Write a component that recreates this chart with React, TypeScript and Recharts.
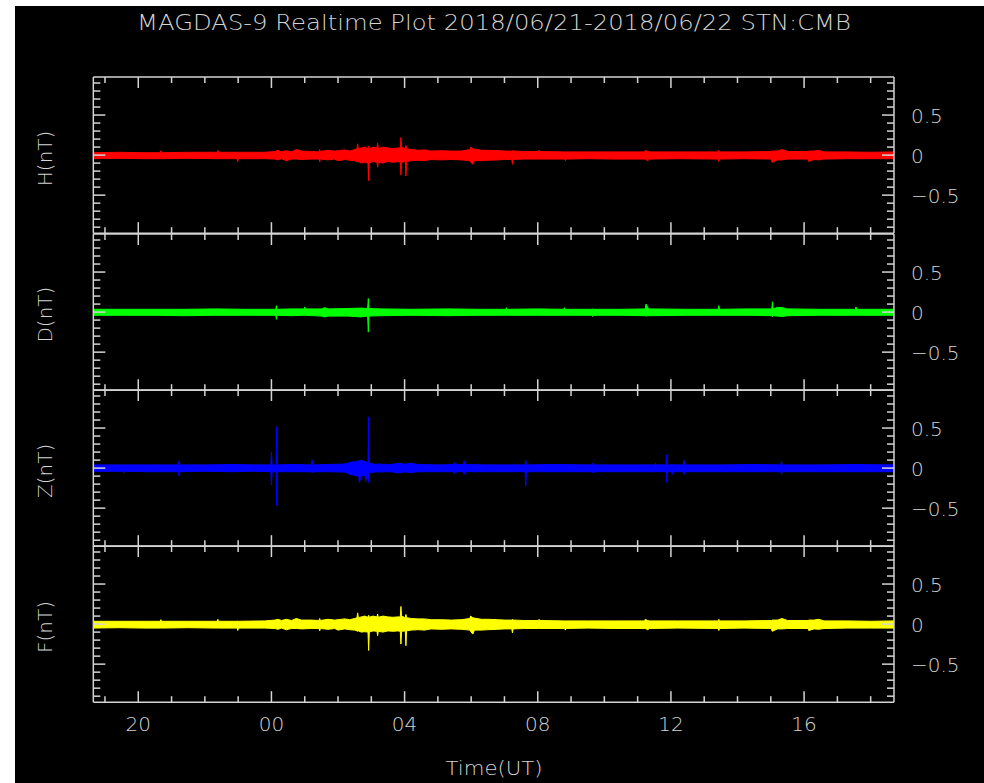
import React from "react";
import { Area, ComposedChart, XAxis, YAxis } from "recharts";

// envelope samples: [hour since 06/21 00:00 UT, min nT, max nT]
const hEnv: [number, number, number][] = [
  [18.65, -0.045, 0.03], [19.4, -0.04, 0.035], [20.2, -0.045, 0.03],
  [20.66, -0.045, 0.03], [20.68, -0.045, 0.055], [20.7, -0.045, 0.03],
  [21.5, -0.04, 0.035],
  [22.37, -0.045, 0.035], [22.39, -0.05, 0.06], [22.41, -0.045, 0.035],
  [22.97, -0.045, 0.035], [22.99, -0.08, 0.04], [23.01, -0.045, 0.035],
  [23.8, -0.045, 0.035],
  [24.1, -0.05, 0.045], [24.2, -0.06, 0.06], [24.3, -0.045, 0.04], [24.45, -0.07, 0.055], [24.6, -0.05, 0.04],
  [24.75, -0.05, 0.07], [24.9, -0.055, 0.05], [25.2, -0.05, 0.045],
  [25.43, -0.05, 0.04], [25.45, -0.085, 0.07], [25.47, -0.05, 0.045],
  [25.7, -0.06, 0.06], [25.9, -0.05, 0.05], [26.0, -0.07, 0.055], [26.2, -0.055, 0.065], [26.35, -0.065, 0.05], [26.5, -0.07, 0.07],
  [26.57, -0.08, 0.08], [26.59, -0.09, 0.14], [26.61, -0.08, 0.08],
  [26.7, -0.1, 0.09], [26.8, -0.09, 0.1],
  [26.9, -0.1, 0.08], [26.92, -0.32, 0.11], [26.94, -0.1, 0.08],
  [27.05, -0.08, 0.1],
  [27.17, -0.09, 0.09], [27.19, -0.15, 0.15], [27.21, -0.09, 0.08],
  [27.35, -0.1, 0.1], [27.5, -0.08, 0.09], [27.65, -0.09, 0.08], [27.8, -0.08, 0.09],
  [27.87, -0.09, 0.09], [27.89, -0.25, 0.22], [27.91, -0.09, 0.1],
  [28.02, -0.08, 0.08], [28.04, -0.26, 0.12], [28.06, -0.08, 0.08],
  [28.2, -0.07, 0.07], [28.4, -0.065, 0.06], [28.6, -0.07, 0.065], [28.8, -0.055, 0.05], [29.1, -0.06, 0.055], [29.4, -0.055, 0.05], [29.7, -0.06, 0.05],
  [29.97, -0.07, 0.07], [29.99, -0.09, 0.1], [30.05, -0.115, 0.08], [30.1, -0.07, 0.075],
  [30.3, -0.07, 0.06], [30.5, -0.065, 0.06], [30.8, -0.06, 0.055], [31.0, -0.055, 0.05],
  [31.22, -0.055, 0.05], [31.24, -0.115, 0.06], [31.26, -0.055, 0.05],
  [31.6, -0.05, 0.045], [32.02, -0.05, 0.045], [32.04, -0.05, 0.06], [32.06, -0.05, 0.045],
  [32.81, -0.05, 0.04], [32.83, -0.07, 0.04], [32.85, -0.05, 0.04],
  [33.5, -0.045, 0.04], [34.3, -0.05, 0.04],
  [35.21, -0.05, 0.04], [35.23, -0.05, 0.06], [35.3, -0.07, 0.045], [35.36, -0.05, 0.04],
  [36.2, -0.045, 0.04],
  [37.42, -0.05, 0.04], [37.44, -0.08, 0.06], [37.46, -0.05, 0.04],
  [38.2, -0.045, 0.04],
  [39.02, -0.05, 0.045], [39.04, -0.09, 0.05], [39.2, -0.06, 0.05], [39.34, -0.06, 0.07], [39.5, -0.05, 0.045],
  [40.12, -0.05, 0.045], [40.14, -0.08, 0.05], [40.3, -0.055, 0.05], [40.44, -0.06, 0.06], [40.6, -0.05, 0.04],
  [41.3, -0.045, 0.04], [42.0, -0.045, 0.035], [42.7, -0.045, 0.04],
];

const dEnv: [number, number, number][] = [
  [18.65, -0.04, 0.035], [19.5, -0.04, 0.035], [20.5, -0.04, 0.035], [21.4, -0.045, 0.035], [22.3, -0.04, 0.04], [23.2, -0.04, 0.035],
  [24.13, -0.04, 0.035], [24.15, -0.09, 0.08], [24.17, -0.04, 0.035],
  [24.6, -0.045, 0.04], [24.98, -0.04, 0.04], [25.0, -0.045, 0.065], [25.02, -0.04, 0.04],
  [25.5, -0.05, 0.04], [25.6, -0.06, 0.055], [25.7, -0.05, 0.04],
  [26.3, -0.05, 0.045], [26.7, -0.06, 0.05],
  [26.89, -0.05, 0.045], [26.91, -0.25, 0.17], [26.93, -0.05, 0.045],
  [27.3, -0.045, 0.04], [28.2, -0.04, 0.035], [29.3, -0.045, 0.04], [30.2, -0.04, 0.035],
  [31.04, -0.04, 0.035], [31.06, -0.04, 0.055], [31.08, -0.04, 0.035],
  [32.0, -0.04, 0.04], [32.78, -0.04, 0.035], [32.8, -0.045, 0.055], [32.82, -0.04, 0.035],
  [33.63, -0.04, 0.035], [33.65, -0.055, 0.04], [33.67, -0.04, 0.035],
  [34.5, -0.04, 0.035],
  [35.23, -0.045, 0.04], [35.25, -0.05, 0.1], [35.3, -0.045, 0.06], [35.35, -0.045, 0.04],
  [36.5, -0.04, 0.035],
  [37.42, -0.04, 0.035], [37.44, -0.045, 0.08], [37.46, -0.04, 0.035],
  [38.3, -0.04, 0.04],
  [39.03, -0.045, 0.04], [39.05, -0.06, 0.13], [39.07, -0.045, 0.04], [39.2, -0.05, 0.06], [39.35, -0.055, 0.055], [39.5, -0.045, 0.04],
  [40.5, -0.04, 0.035],
  [41.54, -0.04, 0.035], [41.56, -0.045, 0.065], [41.58, -0.04, 0.035],
  [42.7, -0.04, 0.035],
];

const zEnv: [number, number, number][] = [
  [18.65, -0.04, 0.04], [19.3, -0.04, 0.04], [19.54, -0.04, 0.04], [19.56, -0.065, 0.04], [19.58, -0.04, 0.04],
  [20.3, -0.045, 0.04],
  [21.2, -0.045, 0.04], [21.22, -0.1, 0.09], [21.24, -0.045, 0.04],
  [22.0, -0.04, 0.04], [22.8, -0.045, 0.045], [23.5, -0.04, 0.04],
  [23.98, -0.045, 0.04], [24.0, -0.21, 0.2], [24.02, -0.045, 0.04],
  [24.14, -0.045, 0.04], [24.16, -0.47, 0.52], [24.18, -0.045, 0.04],
  [24.6, -0.045, 0.045],
  [25.2, -0.045, 0.04], [25.22, -0.06, 0.1], [25.24, -0.045, 0.04],
  [25.7, -0.045, 0.045],
  [26.2, -0.05, 0.05], [26.35, -0.08, 0.07], [26.5, -0.09, 0.08], [26.62, -0.1, 0.09], [26.64, -0.18, 0.09], [26.7, -0.1, 0.1],
  [26.81, -0.09, 0.08], [26.83, -0.17, 0.08], [26.87, -0.08, 0.07],
  [26.9, -0.07, 0.06], [26.92, -0.18, 0.64], [26.94, -0.06, 0.06],
  [27.05, -0.05, 0.05],
  [27.6, -0.045, 0.045], [27.8, -0.06, 0.06], [28.0, -0.05, 0.05], [28.2, -0.055, 0.06], [28.4, -0.045, 0.045],
  [29.0, -0.045, 0.04],
  [29.47, -0.045, 0.045], [29.49, -0.07, 0.07], [29.51, -0.045, 0.045],
  [29.77, -0.045, 0.045], [29.79, -0.08, 0.09], [29.81, -0.045, 0.045],
  [30.5, -0.045, 0.04],
  [31.62, -0.045, 0.04], [31.64, -0.225, 0.1], [31.66, -0.045, 0.04],
  [32.5, -0.045, 0.045],
  [33.62, -0.045, 0.04], [33.64, -0.06, 0.06], [33.66, -0.045, 0.04],
  [34.5, -0.045, 0.04],
  [35.52, -0.045, 0.04], [35.54, -0.05, 0.06], [35.56, -0.045, 0.04],
  [35.85, -0.045, 0.04], [35.87, -0.18, 0.17], [35.89, -0.045, 0.04],
  [36.02, -0.045, 0.04], [36.04, -0.08, 0.05], [36.06, -0.045, 0.04],
  [36.37, -0.045, 0.04], [36.39, -0.08, 0.1], [36.41, -0.045, 0.04],
  [37.5, -0.045, 0.04], [38.5, -0.045, 0.045],
  [39.3, -0.045, 0.04], [39.32, -0.08, 0.09], [39.34, -0.045, 0.04],
  [40.5, -0.045, 0.04], [41.5, -0.045, 0.045], [42.7, -0.045, 0.04],
];

const fEnv: [number, number, number][] = [
  [18.65, -0.05, 0.035], [19.4, -0.045, 0.035], [20.2, -0.05, 0.035],
  [20.66, -0.05, 0.035], [20.68, -0.05, 0.055], [20.7, -0.05, 0.035],
  [21.5, -0.045, 0.035],
  [22.37, -0.05, 0.035], [22.39, -0.05, 0.06], [22.41, -0.05, 0.035],
  [22.97, -0.05, 0.035], [22.99, -0.08, 0.04], [23.01, -0.05, 0.035],
  [23.8, -0.05, 0.04],
  [24.1, -0.055, 0.05], [24.2, -0.065, 0.06], [24.3, -0.05, 0.045], [24.45, -0.07, 0.06], [24.6, -0.055, 0.045],
  [24.75, -0.055, 0.07], [24.9, -0.06, 0.05], [25.2, -0.055, 0.05],
  [25.43, -0.055, 0.045], [25.45, -0.085, 0.07], [25.47, -0.055, 0.045],
  [25.7, -0.065, 0.06], [25.9, -0.055, 0.05], [26.0, -0.075, 0.055], [26.2, -0.06, 0.065], [26.35, -0.07, 0.055], [26.5, -0.075, 0.07],
  [26.57, -0.085, 0.08], [26.59, -0.09, 0.14], [26.61, -0.085, 0.08],
  [26.7, -0.1, 0.09], [26.8, -0.095, 0.1],
  [26.9, -0.1, 0.085], [26.92, -0.33, 0.11], [26.94, -0.1, 0.085],
  [27.05, -0.085, 0.1],
  [27.17, -0.09, 0.09], [27.19, -0.145, 0.125], [27.21, -0.09, 0.085],
  [27.35, -0.1, 0.1], [27.5, -0.085, 0.09], [27.65, -0.09, 0.085], [27.8, -0.085, 0.09],
  [27.87, -0.09, 0.09], [27.89, -0.25, 0.22], [27.91, -0.09, 0.1],
  [28.02, -0.085, 0.08], [28.04, -0.27, 0.12], [28.06, -0.085, 0.08],
  [28.2, -0.075, 0.07], [28.4, -0.07, 0.065], [28.6, -0.075, 0.065], [28.8, -0.06, 0.055], [29.1, -0.065, 0.055], [29.4, -0.06, 0.05], [29.7, -0.065, 0.055],
  [29.96, -0.075, 0.07], [29.98, -0.09, 0.1], [30.05, -0.125, 0.08], [30.1, -0.075, 0.075],
  [30.3, -0.075, 0.06], [30.5, -0.07, 0.06], [30.8, -0.065, 0.055], [31.0, -0.06, 0.05],
  [31.22, -0.06, 0.05], [31.24, -0.11, 0.06], [31.26, -0.06, 0.05],
  [31.6, -0.055, 0.045], [32.02, -0.055, 0.045], [32.04, -0.055, 0.06], [32.06, -0.055, 0.045],
  [32.81, -0.055, 0.04], [32.83, -0.075, 0.04], [32.85, -0.055, 0.04],
  [33.5, -0.05, 0.04], [34.3, -0.055, 0.04],
  [35.21, -0.055, 0.04], [35.23, -0.055, 0.06], [35.3, -0.07, 0.045], [35.36, -0.055, 0.04],
  [36.2, -0.05, 0.04],
  [37.42, -0.055, 0.04], [37.44, -0.08, 0.06], [37.46, -0.055, 0.04],
  [38.2, -0.05, 0.04],
  [39.02, -0.055, 0.045], [39.04, -0.09, 0.05], [39.2, -0.06, 0.05], [39.34, -0.06, 0.07], [39.5, -0.055, 0.045],
  [40.12, -0.055, 0.045], [40.14, -0.08, 0.05], [40.3, -0.06, 0.05], [40.44, -0.065, 0.06], [40.6, -0.055, 0.04],
  [41.3, -0.05, 0.04], [42.0, -0.05, 0.035], [42.7, -0.05, 0.04],
];

const hourTicks = [19, 20, 21, 22, 23, 24, 25, 26, 27, 28, 29, 30, 31, 32, 33, 34, 35, 36, 37, 38, 39, 40, 41, 42];
const hourMajor = [20, 24, 28, 32, 36, 40];
const hourLabels = ["20", "00", "04", "08", "12", "16"];
const nTTicks = [-0.9, -0.8, -0.7, -0.6, -0.5, -0.4, -0.3, -0.2, -0.1, 0, 0.1, 0.2, 0.3, 0.4, 0.5, 0.6, 0.7, 0.8, 0.9];
const nTMajor = [-0.5, 0, 0.5];
const nTLabels = ["\u22120.5", "0", "0.5"];

const panels = [
  { name: "H(nT)", color: "#ff0000", env: hEnv },
  { name: "D(nT)", color: "#00ff00", env: dEnv },
  { name: "Z(nT)", color: "#0000ff", env: zEnv },
  { name: "F(nT)", color: "#ffff00", env: fEnv },
];

const FG = "#d4d4d4";
const FONT = "'DejaVu Sans', sans-serif";
const PLOT_LEFT = 93.3;
const PLOT_W = 800.7;
const PANEL_H = 156.2;
const FIRST_TOP = 77.3;
const PAD = 3;
const W = 984;

const majorIdx = (list: number[], v: number) => list.findIndex(m => Math.abs(m - v) < 1e-6);

function xTick(dir: number, showLabel: boolean) {
  return (p: any) => {
    const k = majorIdx(hourMajor, p.payload.value);
    const len = k >= 0 ? 11 : 6;
    return (
      <g>
        <line x1={p.x} x2={p.x} y1={p.y} y2={p.y + dir * len} stroke={FG} strokeWidth={1.5} />
        {showLabel && k >= 0 && (
          <text x={p.x} y={p.y + 29} textAnchor="middle" fill={FG} fontSize={20} fontFamily={FONT} fontWeight={200}>
            {hourLabels[k]}
          </text>
        )}
      </g>
    );
  };
}

function yTick(dir: number, showLabel: boolean) {
  return (p: any) => {
    const k = majorIdx(nTMajor, p.payload.value);
    const len = k >= 0 ? 12 : 7;
    return (
      <g>
        <line x1={p.x} x2={p.x + dir * len} y1={p.y} y2={p.y} stroke={FG} strokeWidth={1.5} />
        {showLabel && k >= 0 && (
          <text x={p.x + 17} y={p.y + 8} textAnchor="start" fill={FG} fontSize={20} fontFamily={FONT} fontWeight={200}>
            {nTLabels[k]}
          </text>
        )}
      </g>
    );
  };
}

function Panel({ index }: { index: number }) {
  const panel = panels[index];
  const last = index === panels.length - 1;
  const data = panel.env.map(([t, lo, hi]) => ({ t, r: [lo, hi] }));
  const extra = last ? 40 : 0;
  const axisLine = { stroke: FG, strokeWidth: 1.5 };
  // axes are 1px thick (a 0px axis is not drawn), margins compensate
  const xCommon = {
    type: "number" as const,
    dataKey: "t",
    domain: [18.65, 42.7],
    ticks: hourTicks,
    interval: 0 as const,
    height: 1,
    tickSize: 0,
    tickMargin: 0,
    tickLine: false,
    axisLine,
    allowDataOverflow: true,
  };
  const yCommon = {
    type: "number" as const,
    domain: [-0.975, 0.975],
    ticks: nTTicks,
    interval: 0 as const,
    width: 1,
    tickSize: 0,
    tickMargin: 0,
    tickLine: false,
    axisLine,
    allowDataOverflow: true,
  };
  return (
    <div style={{ position: "absolute", left: 0, top: FIRST_TOP + index * PANEL_H - PAD }}>
      <ComposedChart
        width={W}
        height={PANEL_H + 2 * PAD + extra}
        data={data}
        margin={{ top: PAD - 1, bottom: PAD + extra - 1, left: PLOT_LEFT - 1, right: W - PLOT_LEFT - PLOT_W - 1 }}
      >
        <XAxis xAxisId="b" orientation="bottom" {...xCommon} tick={xTick(-1, last)} />
        <XAxis xAxisId="t" orientation="top" {...xCommon} tick={xTick(1, false)} />
        <YAxis yAxisId="l" orientation="left" {...yCommon} tick={yTick(1, false)} />
        <YAxis yAxisId="r" orientation="right" {...yCommon} tick={yTick(-1, true)} />
        <Area
          xAxisId="b"
          yAxisId="l"
          type="linear"
          dataKey="r"
          stroke={panel.color}
          strokeWidth={1}
          fill={panel.color}
          fillOpacity={1}
          dot={false}
          activeDot={false}
          isAnimationActive={false}
        />
      </ComposedChart>
    </div>
  );
}

export default function App() {
  return (
    <div style={{ position: "absolute", left: 0, top: 0, width: W, height: 783, background: "#fff", overflow: "hidden" }}>
      <div style={{ position: "absolute", left: 15, top: 6, right: 0, bottom: 0, background: "#000" }} />
      {panels.map((_, i) => (
        <Panel key={i} index={i} />
      ))}
      <svg width={W} height={783} style={{ position: "absolute", left: 0, top: 0, pointerEvents: "none" }}>
        <text x={494} y={30} textAnchor="middle" fill={FG} fontSize={21} fontFamily={FONT} fontWeight={200} textLength={714} lengthAdjust="spacingAndGlyphs">
          MAGDAS-9 Realtime Plot 2018/06/21-2018/06/22 STN:CMB
        </text>
        <text x={494} y={775} textAnchor="middle" fill={FG} fontSize={20} fontFamily={FONT} fontWeight={200} textLength={97} lengthAdjust="spacingAndGlyphs">
          Time(UT)
        </text>
        {panels.map((p, i) => {
          const cy = FIRST_TOP + i * PANEL_H + PANEL_H / 2 + 3;
          return (
            <text key={p.name} x={52} y={cy} transform={`rotate(-90 52 ${cy})`} textAnchor="middle" fill={FG} fontSize={20} fontFamily={FONT} fontWeight={200}>
              {p.name}
            </text>
          );
        })}
      </svg>
    </div>
  );
}
